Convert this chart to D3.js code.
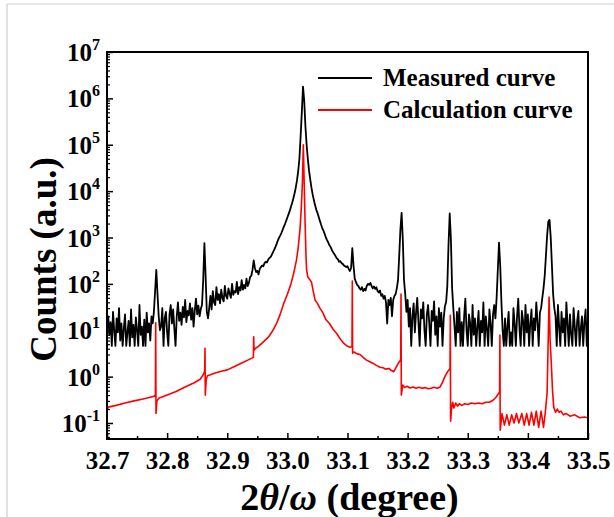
<!DOCTYPE html>
<html>
<head>
<meta charset="utf-8">
<script src="https://cdn.jsdelivr.net/npm/d3@7"></script>
<style>
  html, body { margin: 0; padding: 0; background: #ffffff; }
  svg { display: block; }
  text { font-family: "Liberation Serif", "Times New Roman", serif; font-weight: bold; fill: #000; }
</style>
</head>
<body>
<script>
// ---- axis settings ----
const thetaMin = 32.7, thetaMax = 33.5, thetaStep = 0.002;
const xTickValues = [32.7, 32.8, 32.9, 33.0, 33.1, 33.2, 33.3, 33.4, 33.5];
const xTickLabels = ["32.7", "32.8", "32.9", "33.0", "33.1", "33.2", "33.3", "33.4", "33.5"];
const xMinorTicks = [32.75, 32.85, 32.95, 33.05, 33.15, 33.25, 33.35, 33.45];
const yExponents = [-1, 0, 1, 2, 3, 4, 5, 6, 7];
const yMin = 0.0452, yMax = 1e7;

// ---- measured scan: counts on a uniform 2θ grid (32.700 + 0.002·i) ----
const measuredCounts = [
  12, 20, 8, 15, 4.6, 25, 10, 4.6, 18, 9,
  30, 6, 14, 4.6, 11, 22, 4.6, 9, 16, 4.6,
  28, 7, 13, 4.6, 19, 10, 4.6, 35, 8, 12,
  4.6, 17, 4.6, 24, 9, 14, 6, 20,
  14, 25, 70, 200, 60, 20, 10,
  12, 30, 4.6, 18, 25, 9, 4.6, 22, 35, 14,
  28, 11, 4.6, 20, 40, 16, 24, 13, 32, 19,
  45, 15, 26, 21, 38, 17, 30, 12, 27, 48,
  22, 34, 20, 29,
  35, 120, 760, 150, 25, 18,
  30, 55, 28, 70, 40, 35, 85, 45, 60, 38,
  75, 50, 42, 90, 55, 48, 80, 62, 50, 100,
  58, 70, 65, 110, 60, 85, 72, 120, 75, 95,
  80, 130, 90, 105, 140,
  150, 200, 320, 220, 180, 190, 160, 210,
  230, 250, 240, 280, 300, 290, 330, 360, 380, 420,
  480, 540, 620, 720, 850, 980, 1100, 1250, 1450, 1700,
  1950, 2300, 2700, 3200, 3800, 4600, 5600, 7000, 9000, 12000,
  17000, 27000, 50000, 150000, 500000, 1800000, 900000, 250000, 100000, 50000,
  28000, 18000, 12000, 8500, 6500, 5000, 4000, 3400, 2800, 2300,
  1900, 1600, 1400, 1200, 1000, 880, 780, 680, 620, 540,
  480, 440, 400, 360, 340, 300, 310, 280, 270, 250,
  240, 230, 240, 210, 190, 220,
  590, 250, 130, 110, 95, 90, 80, 75, 85, 70,
  78, 72, 90, 100, 95, 105, 90, 80, 88, 78,
  85, 70, 65, 72, 55, 60, 48, 55, 40, 14,
  45, 35, 50, 20, 45, 55, 60, 80, 120, 400,
  1500, 3400, 900, 120, 60,
  25, 45, 12, 30, 4.6, 20, 38, 9, 24, 50,
  15, 4.6, 28, 18, 40, 10, 4.6, 22, 35, 14,
  4.6, 26, 16, 42, 8, 20, 4.6, 30, 12, 24,
  4.6, 18, 33,
  40, 90, 700, 3300, 900, 80, 30,
  12, 4.6, 25, 9, 30, 4.6, 15, 4.6, 20, 48,
  10, 4.6, 22, 14, 4.6, 35, 8, 18, 4.6, 12,
  26, 4.6, 16, 9, 40, 4.6, 20, 11, 4.6, 28,
  14, 4.6, 22, 35, 18,
  50, 200, 770, 250, 40, 10,
  4.6, 18, 4.6, 12, 25, 4.6, 9, 4.6, 30, 14,
  4.6, 20, 48, 11, 4.6, 26, 16, 4.6, 35, 9,
  22, 4.6, 14, 28, 4.6, 18, 10, 40, 15, 4.6,
  24, 30, 50,
  80, 150, 400, 1100, 2200, 2400, 1000, 250, 60, 30,
  20, 4.6, 35, 12, 4.6, 25, 9, 18, 4.6, 40,
  14, 4.6, 22, 8, 4.6, 30, 12, 4.6, 16, 26,
  4.6, 11, 20, 4.6, 15, 28, 4.6, 18
];

// ---- simulated curve: [2θ, counts] ----
const calcCurve = [
  [32.700, 0.30], [32.7005, 0.19], [32.702, 0.22], [32.715, 0.24], [32.730, 0.27],
  [32.745, 0.30], [32.760, 0.33], [32.772, 0.36], [32.779, 0.38], [32.7805, 0.40],
  [32.781, 14.5], [32.7815, 0.16], [32.783, 0.30], [32.786, 0.34], [32.800, 0.40],
  [32.815, 0.48], [32.830, 0.60], [32.845, 0.74], [32.855, 0.88], [32.860, 1.1],
  [32.8625, 1.3], [32.863, 4.1], [32.8635, 0.40], [32.865, 0.85], [32.867, 1.05],
  [32.872, 1.1], [32.880, 1.2], [32.890, 1.3], [32.900, 1.4], [32.912, 1.65],
  [32.925, 2.0], [32.935, 2.3], [32.9435, 2.6], [32.944, 7.2], [32.9445, 3.7],
  [32.947, 4.1], [32.952, 4.5], [32.960, 5.6], [32.968, 7.0], [32.975, 9.5],
  [32.982, 14], [32.988, 22], [32.994, 38], [33.000, 60], [33.006, 100],
  [33.011, 180], [33.015, 320], [33.018, 600], [33.021, 1500], [33.023, 4000],
  [33.025, 15000], [33.0265, 100000], [33.028, 15000], [33.0295, 2000], [33.031, 400],
  [33.032, 200], [33.034, 140], [33.037, 125], [33.040, 110], [33.043, 70],
  [33.046, 45], [33.050, 38], [33.054, 30], [33.059, 24], [33.064, 17],
  [33.070, 14], [33.076, 10.5], [33.082, 8.5], [33.088, 6.5], [33.094, 5.2],
  [33.100, 4.5], [33.105, 4.3], [33.1075, 4.4], [33.108, 115], [33.1085, 3.2],
  [33.111, 3.4], [33.116, 3.1], [33.121, 3.0], [33.126, 2.6], [33.131, 2.3],
  [33.137, 2.1], [33.142, 1.95], [33.148, 1.75], [33.154, 1.6], [33.159, 1.55],
  [33.164, 1.45], [33.169, 1.5], [33.173, 1.35], [33.177, 1.28], [33.181, 1.6],
  [33.185, 2.0], [33.1885, 2.3], [33.189, 60], [33.1895, 0.40], [33.192, 0.66],
  [33.195, 0.58], [33.199, 0.62], [33.204, 0.57], [33.209, 0.60], [33.214, 0.56],
  [33.219, 0.59], [33.224, 0.56], [33.229, 0.58], [33.234, 0.55], [33.239, 0.56],
  [33.244, 0.59], [33.249, 0.56], [33.254, 0.60], [33.258, 0.75], [33.262, 1.0],
  [33.266, 1.25], [33.2705, 1.5], [33.271, 21], [33.2715, 0.11], [33.273, 0.20],
  [33.275, 0.28], [33.277, 0.21], [33.280, 0.27], [33.283, 0.23], [33.286, 0.26],
  [33.290, 0.24], [33.295, 0.26], [33.300, 0.25], [33.306, 0.27], [33.312, 0.26],
  [33.318, 0.27], [33.324, 0.26], [33.330, 0.28], [33.336, 0.28], [33.342, 0.31],
  [33.347, 0.36], [33.351, 0.43], [33.353, 0.47], [33.3535, 7.9], [33.354, 0.07],
  [33.357, 0.16], [33.361, 0.09], [33.365, 0.15], [33.369, 0.09], [33.373, 0.15],
  [33.377, 0.10], [33.381, 0.16], [33.385, 0.10], [33.390, 0.16], [33.394, 0.09],
  [33.398, 0.16], [33.402, 0.09], [33.406, 0.17], [33.410, 0.09], [33.414, 0.18],
  [33.418, 0.08], [33.422, 0.18], [33.426, 0.08], [33.429, 0.17], [33.432, 0.45],
  [33.434, 8], [33.4353, 52], [33.437, 6], [33.439, 1.9], [33.441, 0.5],
  [33.443, 0.22], [33.446, 0.17], [33.449, 0.20], [33.452, 0.17], [33.455, 0.18],
  [33.459, 0.15], [33.464, 0.16], [33.470, 0.14], [33.478, 0.15], [33.486, 0.13],
  [33.494, 0.135], [33.500, 0.13]
];

const legendItems = [
  { label: "Measured curve", color: "#000000" },
  { label: "Calculation curve", color: "#ff0000" }
];

// ---- layout ----
const W = 614, H = 517;
const plot = { left: 107, right: 588, top: 52, bottom: 439 };

const svg = d3.select("body").append("svg")
  .attr("width", W).attr("height", H);

// light page frame
svg.append("line").attr("x1", 7).attr("y1", 4).attr("x2", W).attr("y2", 4)
  .attr("stroke", "#cfcfcf").attr("stroke-width", 1.2);
svg.append("line").attr("x1", 7).attr("y1", 4).attr("x2", 7).attr("y2", H)
  .attr("stroke", "#cfcfcf").attr("stroke-width", 1.2);

const x = d3.scaleLinear().domain([thetaMin, thetaMax]).range([plot.left, plot.right]);
const y = d3.scaleLog().domain([yMin, yMax]).range([plot.bottom, plot.top]);

svg.append("clipPath").attr("id", "plot-clip")
  .append("rect")
  .attr("x", plot.left).attr("y", plot.top)
  .attr("width", plot.right - plot.left).attr("height", plot.bottom - plot.top);

// ---- curves ----
const measured = measuredCounts.map((c, i) => [thetaMin + i * thetaStep, c]);
const line = d3.line().x(d => x(d[0])).y(d => y(d[1]));

const curves = svg.append("g").attr("clip-path", "url(#plot-clip)");
curves.append("path").datum(measured)
  .attr("d", line).attr("fill", "none")
  .attr("stroke", legendItems[0].color).attr("stroke-width", 1.8)
  .attr("stroke-linejoin", "round");
curves.append("path").datum(calcCurve)
  .attr("d", line).attr("fill", "none")
  .attr("stroke", legendItems[1].color).attr("stroke-width", 1.6)
  .attr("stroke-linejoin", "round");

// ---- x axis (ticks point inward) ----
const xAxis = svg.append("g").attr("transform", `translate(0,${plot.bottom})`)
  .call(d3.axisBottom(x).tickValues(xTickValues).tickSize(-6).tickPadding(12)
    .tickFormat((d, i) => xTickLabels[i]));
xAxis.call(g => g.select(".domain").remove());
xAxis.selectAll(".tick line").attr("stroke-width", 1.5);
xAxis.selectAll(".tick text").attr("font-size", 25)
  .attr("font-family", "Liberation Serif, Times New Roman, serif").attr("font-weight", "bold");

const xMinor = svg.append("g").attr("transform", `translate(0,${plot.bottom})`)
  .call(d3.axisBottom(x).tickValues(xMinorTicks).tickSize(-3).tickFormat(""));
xMinor.call(g => g.select(".domain").remove());
xMinor.selectAll(".tick line").attr("stroke-width", 1.5);

// ---- y axis (log, ticks inward) ----
const yMajor = yExponents.map(e => Math.pow(10, e));
const yMinorVals = [];
yExponents.forEach(e => {
  for (let m = 2; m <= 9; m++) {
    const v = m * Math.pow(10, e - 1);
    if (v >= yMin && v <= yMax) yMinorVals.push(v);
  }
});

const yAxis = svg.append("g").attr("transform", `translate(${plot.left},0)`)
  .call(d3.axisLeft(y).tickValues(yMajor).tickSize(-6).tickFormat(""));
yAxis.call(g => g.select(".domain").remove());
yAxis.selectAll(".tick line").attr("stroke-width", 1.5);

const yMinorAxis = svg.append("g").attr("transform", `translate(${plot.left},0)`)
  .call(d3.axisLeft(y).tickValues(yMinorVals).tickSize(-3).tickFormat(""));
yMinorAxis.call(g => g.select(".domain").remove());
yMinorAxis.selectAll(".tick line").attr("stroke-width", 1.2);

// y tick labels as 10 with a superscript exponent
const yLabels = svg.append("g");
yExponents.forEach(e => {
  const t = yLabels.append("text")
    .attr("x", plot.left - 7)
    .attr("y", y(Math.pow(10, e)) + 9)
    .attr("text-anchor", "end")
    .attr("font-size", 25);
  t.append("tspan").text("10");
  t.append("tspan").attr("dy", -11).attr("font-size", 16).text(String(e));
});

// ---- frame ----
svg.append("rect")
  .attr("x", plot.left).attr("y", plot.top)
  .attr("width", plot.right - plot.left).attr("height", plot.bottom - plot.top)
  .attr("fill", "none").attr("stroke", "#000").attr("stroke-width", 2);

// ---- axis titles ----
const xTitle = svg.append("text")
  .attr("x", (plot.left + plot.right) / 2 + 2).attr("y", 510)
  .attr("text-anchor", "middle").attr("font-size", 38);
xTitle.append("tspan").text("2");
xTitle.append("tspan").attr("font-style", "italic").text("\u03b8");
xTitle.append("tspan").text("/");
xTitle.append("tspan").attr("font-style", "italic").text("\u03c9");
xTitle.append("tspan").text(" (degree)");

svg.append("text")
  .attr("transform", `translate(56,${(plot.top + plot.bottom) / 2 + 14}) rotate(-90)`)
  .attr("text-anchor", "middle").attr("font-size", 37)
  .text("Counts (a.u.)");

// ---- legend ----
const legend = svg.append("g");
legendItems.forEach((item, i) => {
  const ly = 78 + i * 32;
  legend.append("line")
    .attr("x1", 318).attr("x2", 372).attr("y1", ly).attr("y2", ly)
    .attr("stroke", item.color).attr("stroke-width", 2);
  legend.append("text")
    .attr("x", 383).attr("y", ly + 8)
    .attr("font-size", 25)
    .text(item.label);
});
</script>
</body>
</html>
